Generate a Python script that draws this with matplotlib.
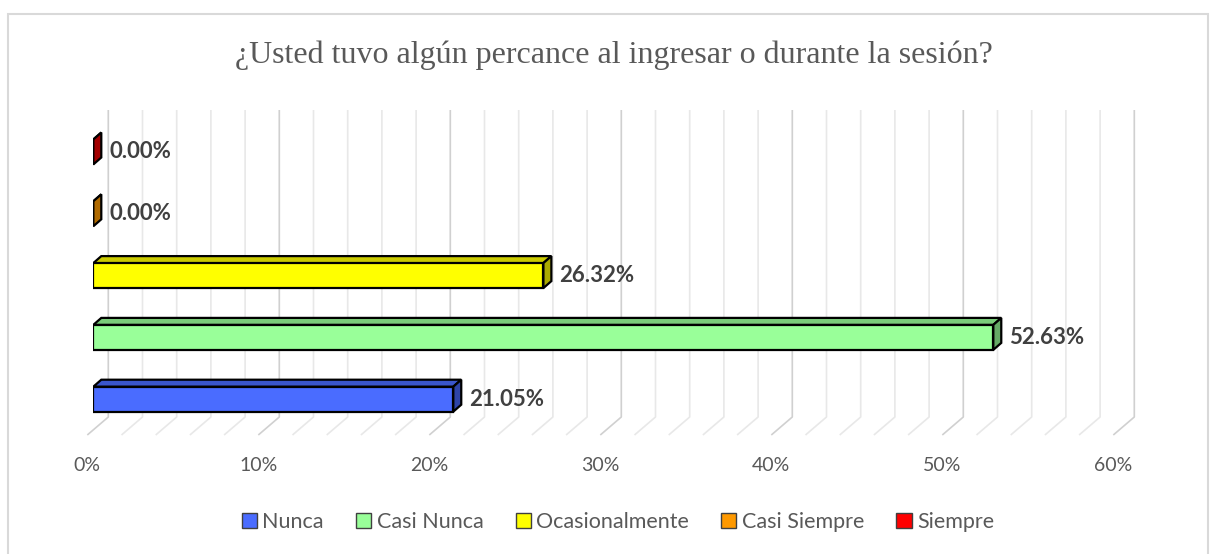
import matplotlib.pyplot as plt
import numpy as np
from matplotlib.patches import Polygon, Rectangle, Patch
from matplotlib.transforms import ScaledTranslation

categorias = ['Nunca', 'Casi Nunca', 'Ocasionalmente', 'Casi Siempre', 'Siempre']
porcentajes = [21.05, 52.63, 26.32, 0.00, 0.00]
colores = ['#4A6CFF', '#99FF99', '#FFFF00', '#FF9900', '#FF0000']
colores_tope = ['#3A56CC', '#7ACC7A', '#CCCC00', '#CC7A00', '#CC0000']
colores_lado = ['#2E44A8', '#66AA66', '#AAAA00', '#B06A00', '#A30000']
ticks = [0, 10, 20, 30, 40, 50, 60]
titulo = '¿Usted tuvo algún percance al ingresar o durante la sesión?'

W, H = 1213, 554
fig = plt.figure(figsize=(W / 100, H / 100), dpi=100)

# plot area placed in pixels (front plane of the bars)
x0_px, x1_px = 93.3, 1119.3
yb_px, yt_px = 440, 105
y_cero, paso = 399.2, 61.8
ax = fig.add_axes([x0_px / W, 1 - yb_px / H, (x1_px - x0_px) / W, (yb_px - yt_px) / H])
ax.set_xlim(0, 60)
ax.set_ylim(-(yb_px - y_cero) / paso, (y_cero - yt_px) / paso)
sx = (x1_px - x0_px) / 60.0


def dx(px):
    return px / sx


def dy(px):
    return px / paso


def py(p):
    return (y_cero - p) / paso


# gridlines: back wall + floor diagonals
for v in np.arange(0, 61, 2):
    c = '#D0D0D0' if v % 10 == 0 else '#E8E8E8'
    ax.plot([v + dx(-6), v + dx(15), v + dx(15)], [py(435), py(417), py(110)],
            color=c, lw=1.2, zorder=1, clip_on=False, solid_capstyle='butt')

alto = 25 / paso
ddx, ddy = dx(8), dy(7)
for i, v in enumerate(porcentajes):
    ax.barh(i, v, height=alto, color=colores[i], edgecolor='black', lw=1.6, zorder=3)
    y_a, y_b = i + alto / 2, i - alto / 2
    tope = Polygon([(0, y_a), (v, y_a), (v + ddx, y_a + ddy), (ddx, y_a + ddy)],
                   closed=True, facecolor=colores_tope[i], edgecolor='black', lw=1.6, zorder=2)
    lado = Polygon([(v, y_b), (v, y_a), (v + ddx, y_a + ddy), (v + ddx, y_b + ddy)],
                   closed=True, facecolor=colores_lado[i], edgecolor='black', lw=1.6, zorder=2)
    ax.add_patch(tope)
    ax.add_patch(lado)
    ax.text(v + dx(16), i, f'{v:.2f}%', va='center', ha='left', fontsize=16,
            fontweight='bold', color='#404040', family='Lato', zorder=4)

ax.set_xticks(ticks)
ax.set_xticklabels([f'{t}%' for t in ticks], fontsize=14, color='#595959', family='Lato')
ax.tick_params(axis='x', length=0, pad=12)
for lab in ax.get_xticklabels():
    lab.set_transform(lab.get_transform() + ScaledTranslation(-6 / 100, 0, fig.dpi_scale_trans))
ax.set_yticks([])
for s in ax.spines.values():
    s.set_visible(False)
ax.patch.set_alpha(0)

fig.text(614 / W, 1 - 63 / H, titulo, ha='center', va='baseline', fontsize=23,
         family='Liberation Serif', color='#595959')

manejadores = [Patch(facecolor=colores[i], edgecolor='#404040', lw=1, label=categorias[i])
               for i in range(len(categorias))]
fig.legend(handles=manejadores, loc='center', bbox_to_anchor=(618 / W, 1 - 522 / H), ncol=5,
           frameon=False, handlelength=0.7, handleheight=0.7, handletextpad=0.25,
           columnspacing=1.5, prop={'family': 'Lato', 'size': 15.5}, labelcolor='#595959')

fig.add_artist(Rectangle((7.5 / W, -0.01), (1208 - 7.5) / W, 1 - 14 / H + 0.01,
                         transform=fig.transFigure, fill=False, edgecolor='#D9D9D9', lw=1.5))

fig.savefig('out.png', dpi=100)
